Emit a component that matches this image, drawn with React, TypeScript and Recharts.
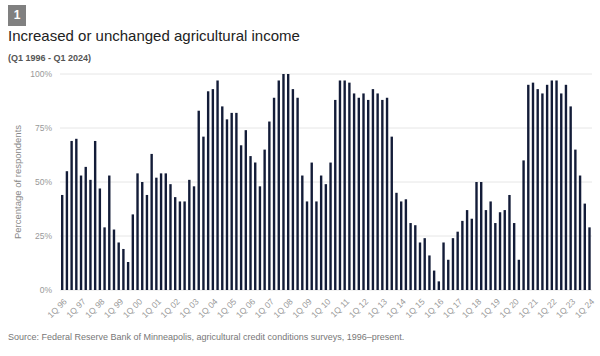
import React from "react";
import { BarChart, Bar, XAxis, YAxis, CartesianGrid } from "recharts";

const YEARS = [
  "96", "97", "98", "99", "00", "01", "02", "03", "04", "05", "06", "07", "08", "09",
  "10", "11", "12", "13", "14", "15", "16", "17", "18", "19", "20", "21", "22", "23", "24",
];
const QUARTERS = ["1Q", "2Q", "3Q", "4Q"];

// share of respondents reporting increased or unchanged income, Q1 1996 - Q1 2024
const PCT_VALUES = [
  44, 55, 69, 70, 53, 57, 51, 69, 47, 29, 53, 28,
  22, 19, 13, 35, 54, 50, 44, 63, 52, 54, 54, 49,
  43, 41, 41, 51, 48, 83, 71, 92, 93, 97, 85, 79,
  82, 82, 67, 74, 62, 59, 48, 65, 78, 89, 97, 100,
  100, 93, 89, 53, 41, 59, 41, 53, 49, 59, 88, 97,
  97, 96, 91, 89, 91, 88, 93, 91, 88, 89, 71, 45,
  41, 42, 31, 30, 22, 24, 16, 9, 4, 22, 14, 24,
  27, 32, 37, 33, 50, 50, 37, 41, 31, 36, 37, 44,
  31, 14, 60, 95, 96, 93, 91, 95, 97, 97, 91, 95,
  85, 65, 53, 40, 29,
];

const Y_TICKS = [0, 25, 50, 75, 100];

const categories: string[] = [];
YEARS.forEach((y) => QUARTERS.forEach((q) => categories.push(`${q} ${y}`)));

const data = PCT_VALUES.map((v, i) => ({ q: categories[i], value: v }));

const FONT = "'Liberation Sans', Arial, sans-serif";

function XTick(props: any) {
  const { x, y, payload } = props;
  return (
    <text
      x={x + 3}
      y={y + 2}
      transform={`rotate(-45, ${x + 3}, ${y + 2})`}
      textAnchor="end"
      dominantBaseline="central"
      fontSize={8.5}
      fill="#999"
      fontFamily={FONT}
    >
      {payload.value}
    </text>
  );
}

export default function App() {
  return (
    <div
      style={{
        position: "absolute",
        left: 0,
        top: 0,
        width: 600,
        height: 356,
        background: "#fff",
        fontFamily: FONT,
        overflow: "hidden",
      }}
    >
      <div
        style={{
          position: "absolute",
          left: 8,
          top: 5,
          width: 18,
          height: 21,
          background: "#808080",
          color: "#fff",
          fontWeight: "bold",
          fontSize: 12,
          lineHeight: "21px",
          textAlign: "center",
        }}
      >
        1
      </div>
      <div
        style={{
          position: "absolute",
          left: 8,
          top: 27,
          fontSize: 15,
          color: "#222",
          lineHeight: "18px",
          whiteSpace: "nowrap",
        }}
      >
        Increased or unchanged agricultural income
      </div>
      <div
        style={{
          position: "absolute",
          left: 8,
          top: 53,
          fontSize: 9,
          fontWeight: "bold",
          color: "#555",
          whiteSpace: "nowrap",
        }}
      >
        (Q1 1996 - Q1 2024)
      </div>
      <div
        style={{
          position: "absolute",
          left: 17,
          top: 182,
          transform: "translate(-50%, -50%) rotate(-90deg)",
          fontSize: 9.5,
          color: "#888",
          whiteSpace: "nowrap",
        }}
      >
        Percentage of respondents
      </div>
      <div style={{ position: "absolute", left: 0, top: 0 }}>
        <BarChart
          width={600}
          height={356}
          data={data}
          margin={{ top: 74, right: 8, bottom: 36, left: 0 }}
          barCategoryGap="18%"
        >
          <CartesianGrid vertical={false} stroke="#e6e6e6" />
          <XAxis
            dataKey="q"
            interval={3}
            tick={<XTick />}
            tickLine={false}
            axisLine={false}
            height={30}
          />
          <YAxis
            domain={[0, 100]}
            ticks={Y_TICKS}
            tickFormatter={(v: number) => `${v}%`}
            tick={{ fontSize: 8.5, fill: "#999", fontFamily: FONT }}
            tickLine={false}
            axisLine={false}
            width={60}
          />
          <Bar dataKey="value" fill="#131c38" barSize={2.4} isAnimationActive={false} />
        </BarChart>
      </div>
      <div
        style={{
          position: "absolute",
          left: 8,
          top: 332,
          fontSize: 9,
          color: "#777",
          whiteSpace: "nowrap",
        }}
      >
        Source: Federal Reserve Bank of Minneapolis, agricultural credit conditions surveys, 1996–present.
      </div>
    </div>
  );
}
